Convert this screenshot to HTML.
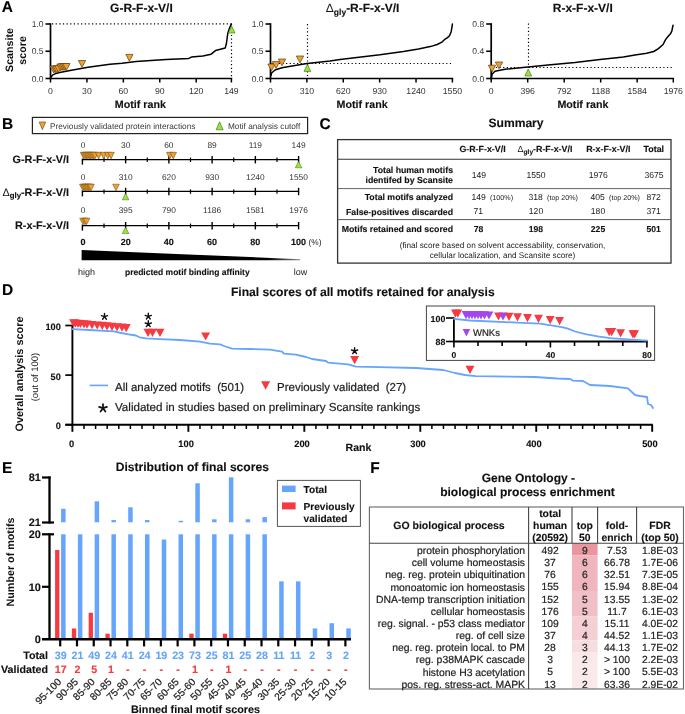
<!DOCTYPE html>
<html><head><meta charset="utf-8"><title>Figure</title>
<style>
html,body{margin:0;padding:0;background:#fff;}
body{width:685px;height:714px;overflow:hidden;}
svg{display:block;font-family:"Liberation Sans", sans-serif;will-change:transform;text-rendering:geometricPrecision;}
</style></head><body>
<svg width="685" height="714" viewBox="0 0 685 714">
<rect x="0" y="0" width="685" height="714" fill="#fff"/>
<text x="1.80" y="12.30" font-size="15.5" font-weight="bold" text-anchor="start" fill="#000" stroke="#000" stroke-width="0.12" >A</text>
<text x="1.90" y="128.50" font-size="15.5" font-weight="bold" text-anchor="start" fill="#000" stroke="#000" stroke-width="0.12" >B</text>
<text x="319.40" y="128.80" font-size="15.5" font-weight="bold" text-anchor="start" fill="#000" stroke="#000" stroke-width="0.12" >C</text>
<text x="1.90" y="295.00" font-size="15.5" font-weight="bold" text-anchor="start" fill="#000" stroke="#000" stroke-width="0.12" >D</text>
<text x="2.00" y="473.40" font-size="15.5" font-weight="bold" text-anchor="start" fill="#000" stroke="#000" stroke-width="0.12" >E</text>
<text x="370.20" y="472.80" font-size="15.5" font-weight="bold" text-anchor="start" fill="#000" stroke="#000" stroke-width="0.12" >F</text>
<line x1="50.50" y1="23.20" x2="50.50" y2="79.30" stroke="#000" stroke-width="1.7" />
<line x1="49.70" y1="78.50" x2="232.20" y2="78.50" stroke="#000" stroke-width="1.7" />
<line x1="45.50" y1="78.50" x2="50.50" y2="78.50" stroke="#000" stroke-width="1.6" />
<text x="43.50" y="81.54" font-size="8.5" text-anchor="end" fill="#333" stroke="#333" stroke-width="0" >0.0</text>
<line x1="45.50" y1="51.25" x2="50.50" y2="51.25" stroke="#000" stroke-width="1.6" />
<text x="43.50" y="54.29" font-size="8.5" text-anchor="end" fill="#333" stroke="#333" stroke-width="0" >0.5</text>
<line x1="45.50" y1="24.00" x2="50.50" y2="24.00" stroke="#000" stroke-width="1.6" />
<text x="43.50" y="27.04" font-size="8.5" text-anchor="end" fill="#333" stroke="#333" stroke-width="0" >1.0</text>
<line x1="50.50" y1="78.50" x2="50.50" y2="82.50" stroke="#000" stroke-width="1.5" />
<text x="50.50" y="93.81" font-size="8.7" text-anchor="middle" fill="#333" stroke="#333" stroke-width="0" >0</text>
<line x1="86.92" y1="78.50" x2="86.92" y2="82.50" stroke="#000" stroke-width="1.5" />
<text x="86.92" y="93.81" font-size="8.7" text-anchor="middle" fill="#333" stroke="#333" stroke-width="0" >30</text>
<line x1="123.35" y1="78.50" x2="123.35" y2="82.50" stroke="#000" stroke-width="1.5" />
<text x="123.35" y="93.81" font-size="8.7" text-anchor="middle" fill="#333" stroke="#333" stroke-width="0" >60</text>
<line x1="159.77" y1="78.50" x2="159.77" y2="82.50" stroke="#000" stroke-width="1.5" />
<text x="159.77" y="93.81" font-size="8.7" text-anchor="middle" fill="#333" stroke="#333" stroke-width="0" >90</text>
<line x1="196.19" y1="78.50" x2="196.19" y2="82.50" stroke="#000" stroke-width="1.5" />
<text x="196.19" y="93.81" font-size="8.7" text-anchor="middle" fill="#333" stroke="#333" stroke-width="0" >120</text>
<line x1="231.40" y1="78.50" x2="231.40" y2="82.50" stroke="#000" stroke-width="1.5" />
<text x="231.40" y="93.81" font-size="8.7" text-anchor="middle" fill="#333" stroke="#333" stroke-width="0" >149</text>
<text x="140.35" y="108.03" font-size="10.7" font-weight="bold" text-anchor="middle" fill="#111" stroke="#111" stroke-width="0.12" >Motif rank</text>
<text x="141.45" y="12.40" font-size="12" font-weight="bold" text-anchor="middle" fill="#111" stroke="#111" stroke-width="0.12" >G-R-F-x-V/I</text>
<line x1="270.50" y1="23.20" x2="270.50" y2="79.30" stroke="#000" stroke-width="1.7" />
<line x1="269.70" y1="78.50" x2="453.20" y2="78.50" stroke="#000" stroke-width="1.7" />
<line x1="265.50" y1="78.50" x2="270.50" y2="78.50" stroke="#000" stroke-width="1.6" />
<text x="263.50" y="81.54" font-size="8.5" text-anchor="end" fill="#333" stroke="#333" stroke-width="0" >0.0</text>
<line x1="265.50" y1="51.25" x2="270.50" y2="51.25" stroke="#000" stroke-width="1.6" />
<text x="263.50" y="54.29" font-size="8.5" text-anchor="end" fill="#333" stroke="#333" stroke-width="0" >0.5</text>
<line x1="265.50" y1="24.00" x2="270.50" y2="24.00" stroke="#000" stroke-width="1.6" />
<text x="263.50" y="27.04" font-size="8.5" text-anchor="end" fill="#333" stroke="#333" stroke-width="0" >1.0</text>
<line x1="270.50" y1="78.50" x2="270.50" y2="82.50" stroke="#000" stroke-width="1.5" />
<text x="270.50" y="93.81" font-size="8.7" text-anchor="middle" fill="#333" stroke="#333" stroke-width="0" >0</text>
<line x1="306.88" y1="78.50" x2="306.88" y2="82.50" stroke="#000" stroke-width="1.5" />
<text x="306.88" y="93.81" font-size="8.7" text-anchor="middle" fill="#333" stroke="#333" stroke-width="0" >310</text>
<line x1="343.26" y1="78.50" x2="343.26" y2="82.50" stroke="#000" stroke-width="1.5" />
<text x="343.26" y="93.81" font-size="8.7" text-anchor="middle" fill="#333" stroke="#333" stroke-width="0" >620</text>
<line x1="379.64" y1="78.50" x2="379.64" y2="82.50" stroke="#000" stroke-width="1.5" />
<text x="379.64" y="93.81" font-size="8.7" text-anchor="middle" fill="#333" stroke="#333" stroke-width="0" >930</text>
<line x1="416.02" y1="78.50" x2="416.02" y2="82.50" stroke="#000" stroke-width="1.5" />
<text x="416.02" y="93.81" font-size="8.7" text-anchor="middle" fill="#333" stroke="#333" stroke-width="0" >1240</text>
<line x1="452.40" y1="78.50" x2="452.40" y2="82.50" stroke="#000" stroke-width="1.5" />
<text x="452.40" y="93.81" font-size="8.7" text-anchor="middle" fill="#333" stroke="#333" stroke-width="0" >1550</text>
<text x="362.15" y="108.03" font-size="10.7" font-weight="bold" text-anchor="middle" fill="#111" stroke="#111" stroke-width="0.12" >Motif rank</text>
<text x="362.65" y="12.4" font-size="12" font-weight="bold" text-anchor="middle" fill="#111" stroke="#111" stroke-width="0.12"><tspan font-weight="normal" stroke-width="0">&#916;</tspan><tspan font-size="8.5" dy="2.5">gly</tspan><tspan dy="-2.5">-R-F-x-V/I</tspan></text>
<line x1="491.20" y1="23.20" x2="491.20" y2="79.30" stroke="#000" stroke-width="1.7" />
<line x1="490.40" y1="78.50" x2="674.10" y2="78.50" stroke="#000" stroke-width="1.7" />
<line x1="486.20" y1="78.50" x2="491.20" y2="78.50" stroke="#000" stroke-width="1.6" />
<text x="484.20" y="81.54" font-size="8.5" text-anchor="end" fill="#333" stroke="#333" stroke-width="0" >0.0</text>
<line x1="486.20" y1="51.25" x2="491.20" y2="51.25" stroke="#000" stroke-width="1.6" />
<text x="484.20" y="54.29" font-size="8.5" text-anchor="end" fill="#333" stroke="#333" stroke-width="0" >0.4</text>
<line x1="486.20" y1="24.00" x2="491.20" y2="24.00" stroke="#000" stroke-width="1.6" />
<text x="484.20" y="27.04" font-size="8.5" text-anchor="end" fill="#333" stroke="#333" stroke-width="0" >0.8</text>
<line x1="491.20" y1="78.50" x2="491.20" y2="82.50" stroke="#000" stroke-width="1.5" />
<text x="491.20" y="93.81" font-size="8.7" text-anchor="middle" fill="#333" stroke="#333" stroke-width="0" >0</text>
<line x1="527.69" y1="78.50" x2="527.69" y2="82.50" stroke="#000" stroke-width="1.5" />
<text x="527.69" y="93.81" font-size="8.7" text-anchor="middle" fill="#333" stroke="#333" stroke-width="0" >396</text>
<line x1="564.19" y1="78.50" x2="564.19" y2="82.50" stroke="#000" stroke-width="1.5" />
<text x="564.19" y="93.81" font-size="8.7" text-anchor="middle" fill="#333" stroke="#333" stroke-width="0" >792</text>
<line x1="600.68" y1="78.50" x2="600.68" y2="82.50" stroke="#000" stroke-width="1.5" />
<text x="600.68" y="93.81" font-size="8.7" text-anchor="middle" fill="#333" stroke="#333" stroke-width="0" >1188</text>
<line x1="637.17" y1="78.50" x2="637.17" y2="82.50" stroke="#000" stroke-width="1.5" />
<text x="637.17" y="93.81" font-size="8.7" text-anchor="middle" fill="#333" stroke="#333" stroke-width="0" >1584</text>
<line x1="673.30" y1="78.50" x2="673.30" y2="82.50" stroke="#000" stroke-width="1.5" />
<text x="673.30" y="93.81" font-size="8.7" text-anchor="middle" fill="#333" stroke="#333" stroke-width="0" >1976</text>
<text x="582.95" y="108.03" font-size="10.7" font-weight="bold" text-anchor="middle" fill="#111" stroke="#111" stroke-width="0.12" >Motif rank</text>
<text x="582.75" y="12.40" font-size="12" font-weight="bold" text-anchor="middle" fill="#111" stroke="#111" stroke-width="0.12" >R-x-F-x-V/I</text>
<text transform="translate(12.9,50) rotate(-90)" font-size="10.7" font-weight="bold" text-anchor="middle" fill="#111">Scansite</text>
<text transform="translate(25.6,50.4) rotate(-90)" font-size="10.7" font-weight="bold" text-anchor="middle" fill="#111">score</text>
<line x1="52.00" y1="23.90" x2="231.40" y2="23.90" stroke="#000" stroke-width="1.2" stroke-dasharray="1.2 2.44"/>
<line x1="231.50" y1="24.00" x2="231.50" y2="78.00" stroke="#000" stroke-width="1.2" stroke-dasharray="1.2 2.44"/>
<line x1="307.50" y1="24.00" x2="307.50" y2="76.00" stroke="#000" stroke-width="1.2" stroke-dasharray="1.2 2.44"/>
<line x1="271.50" y1="63.50" x2="452.40" y2="63.50" stroke="#000" stroke-width="1.2" stroke-dasharray="1.2 2.44"/>
<line x1="528.50" y1="23.50" x2="528.50" y2="68.00" stroke="#000" stroke-width="1.2" stroke-dasharray="1.2 2.44"/>
<line x1="492.20" y1="67.50" x2="673.30" y2="67.50" stroke="#000" stroke-width="1.2" stroke-dasharray="1.2 2.44"/>
<path d="M51.20,77.00 L52.40,75.10 L55.00,73.80 L59.70,72.50 L71.40,70.20 L88.00,67.30 L110.00,64.20 L122.00,63.30 L136.00,61.40 L166.00,59.40 L188.80,58.40 L191.40,57.10 L202.80,56.10 L211.10,54.20 L215.50,50.60 L225.20,48.10 L226.50,43.00 L227.80,33.20 L229.50,28.00 L231.30,24.00" stroke="#000" stroke-width="1.5" fill="none" stroke-linejoin="round" stroke-linecap="round" />
<path d="M271.00,75.50 L271.60,73.00 L275.00,70.00 L282.00,67.80 L292.00,66.00 L307.00,63.60 L330.00,61.00 L340.00,59.40 L380.00,54.80 L403.40,51.50 L418.50,49.00 L430.20,46.60 L437.20,44.50 L441.90,42.20 L444.80,39.30 L447.50,37.60 L449.50,35.80 L451.20,31.70 L452.40,24.10" stroke="#000" stroke-width="1.5" fill="none" stroke-linejoin="round" stroke-linecap="round" />
<path d="M491.40,78.00 L492.20,74.00 L495.00,71.20 L505.00,69.20 L528.00,67.10 L548.00,65.00 L575.00,62.50 L600.00,59.50 L623.40,57.10 L635.00,55.00 L646.70,53.30 L653.70,51.50 L658.40,48.60 L663.10,44.50 L665.40,39.90 L668.00,36.50 L670.70,33.40 L671.80,31.10 L673.00,25.30" stroke="#000" stroke-width="1.5" fill="none" stroke-linejoin="round" stroke-linecap="round" />
<path d="M49.95,66.00 L57.25,66.00 L53.60,72.80 Z" fill="#f2a030" stroke="#5a3c08" stroke-width="0.7" stroke-linejoin="round"/>
<path d="M51.55,66.00 L58.85,66.00 L55.20,72.80 Z" fill="#f2a030" stroke="#5a3c08" stroke-width="0.7" stroke-linejoin="round"/>
<path d="M53.15,66.00 L60.45,66.00 L56.80,72.80 Z" fill="#f2a030" stroke="#5a3c08" stroke-width="0.7" stroke-linejoin="round"/>
<path d="M54.75,65.60 L62.05,65.60 L58.40,72.40 Z" fill="#f2a030" stroke="#5a3c08" stroke-width="0.7" stroke-linejoin="round"/>
<path d="M56.85,64.00 L64.15,64.00 L60.50,70.80 Z" fill="#f2a030" stroke="#5a3c08" stroke-width="0.7" stroke-linejoin="round"/>
<path d="M58.35,63.70 L65.65,63.70 L62.00,70.50 Z" fill="#f2a030" stroke="#5a3c08" stroke-width="0.7" stroke-linejoin="round"/>
<path d="M59.85,63.50 L67.15,63.50 L63.50,70.30 Z" fill="#f2a030" stroke="#5a3c08" stroke-width="0.7" stroke-linejoin="round"/>
<path d="M61.35,63.50 L68.65,63.50 L65.00,70.30 Z" fill="#f2a030" stroke="#5a3c08" stroke-width="0.7" stroke-linejoin="round"/>
<path d="M62.75,63.50 L70.05,63.50 L66.40,70.30 Z" fill="#f2a030" stroke="#5a3c08" stroke-width="0.7" stroke-linejoin="round"/>
<path d="M78.35,60.50 L85.65,60.50 L82.00,67.30 Z" fill="#f2a030" stroke="#5a3c08" stroke-width="0.7" stroke-linejoin="round"/>
<path d="M125.75,54.40 L133.05,54.40 L129.40,61.20 Z" fill="#f2a030" stroke="#5a3c08" stroke-width="0.7" stroke-linejoin="round"/>
<path d="M267.85,64.00 L275.15,64.00 L271.50,70.80 Z" fill="#f2a030" stroke="#5a3c08" stroke-width="0.7" stroke-linejoin="round"/>
<path d="M272.35,61.60 L279.65,61.60 L276.00,68.40 Z" fill="#f2a030" stroke="#5a3c08" stroke-width="0.7" stroke-linejoin="round"/>
<path d="M278.35,59.00 L285.65,59.00 L282.00,65.80 Z" fill="#f2a030" stroke="#5a3c08" stroke-width="0.7" stroke-linejoin="round"/>
<path d="M296.35,56.00 L303.65,56.00 L300.00,62.80 Z" fill="#f2a030" stroke="#5a3c08" stroke-width="0.7" stroke-linejoin="round"/>
<path d="M488.35,65.20 L495.65,65.20 L492.00,72.00 Z" fill="#f2a030" stroke="#5a3c08" stroke-width="0.7" stroke-linejoin="round"/>
<path d="M495.35,62.00 L502.65,62.00 L499.00,68.80 Z" fill="#f2a030" stroke="#5a3c08" stroke-width="0.7" stroke-linejoin="round"/>
<path d="M231.60,26.00 L235.00,33.00 L228.20,33.00 Z" fill="#9be53a" stroke="#2f6a0a" stroke-width="0.6" stroke-linejoin="round"/>
<path d="M307.40,64.40 L310.80,71.40 L304.00,71.40 Z" fill="#9be53a" stroke="#2f6a0a" stroke-width="0.6" stroke-linejoin="round"/>
<path d="M528.20,69.00 L531.60,76.00 L524.80,76.00 Z" fill="#9be53a" stroke="#2f6a0a" stroke-width="0.6" stroke-linejoin="round"/>
<rect x="32.4" y="117.4" width="275.2" height="16.2" fill="none" stroke="#222" stroke-width="1.2"/>
<path d="M39.15,122.00 L45.65,122.00 L42.40,129.60 Z" fill="#f2a030" stroke="#5a3c08" stroke-width="0.6" stroke-linejoin="round"/>
<text x="50.00" y="128.55" font-size="8.25" text-anchor="start" fill="#3a3a3a" stroke="#3a3a3a" stroke-width="0" >Previously validated protein interactions</text>
<path d="M219.60,121.80 L223.10,129.80 L216.10,129.80 Z" fill="#9be53a" stroke="#2f6a0a" stroke-width="0.6" stroke-linejoin="round"/>
<text x="228.00" y="128.55" font-size="8.25" text-anchor="start" fill="#3a3a3a" stroke="#3a3a3a" stroke-width="0" >Motif analysis cutoff</text>
<line x1="82.40" y1="159.60" x2="298.60" y2="159.60" stroke="#000" stroke-width="1.3" />
<line x1="82.40" y1="158.60" x2="82.40" y2="164.60" stroke="#000" stroke-width="1.4" />
<line x1="104.02" y1="157.60" x2="104.02" y2="162.00" stroke="#000" stroke-width="1.2" />
<line x1="125.64" y1="156.00" x2="125.64" y2="163.40" stroke="#000" stroke-width="1.4" />
<line x1="147.26" y1="157.60" x2="147.26" y2="162.00" stroke="#000" stroke-width="1.2" />
<line x1="168.88" y1="156.00" x2="168.88" y2="163.40" stroke="#000" stroke-width="1.4" />
<line x1="190.50" y1="157.60" x2="190.50" y2="162.00" stroke="#000" stroke-width="1.2" />
<line x1="212.12" y1="156.00" x2="212.12" y2="163.40" stroke="#000" stroke-width="1.4" />
<line x1="233.74" y1="157.60" x2="233.74" y2="162.00" stroke="#000" stroke-width="1.2" />
<line x1="255.36" y1="156.00" x2="255.36" y2="163.40" stroke="#000" stroke-width="1.4" />
<line x1="276.98" y1="157.60" x2="276.98" y2="162.00" stroke="#000" stroke-width="1.2" />
<line x1="298.60" y1="156.00" x2="298.60" y2="163.40" stroke="#000" stroke-width="1.4" />
<text x="83.10" y="147.81" font-size="8.4" text-anchor="middle" fill="#333" stroke="#333" stroke-width="0" >0</text>
<text x="125.64" y="147.81" font-size="8.4" text-anchor="middle" fill="#333" stroke="#333" stroke-width="0" >30</text>
<text x="168.88" y="147.81" font-size="8.4" text-anchor="middle" fill="#333" stroke="#333" stroke-width="0" >60</text>
<text x="212.12" y="147.81" font-size="8.4" text-anchor="middle" fill="#333" stroke="#333" stroke-width="0" >89</text>
<text x="255.36" y="147.81" font-size="8.4" text-anchor="middle" fill="#333" stroke="#333" stroke-width="0" >119</text>
<text x="298.60" y="147.81" font-size="8.4" text-anchor="middle" fill="#333" stroke="#333" stroke-width="0" >149</text>
<text x="69.00" y="163.47" font-size="10.8" font-weight="bold" text-anchor="end" fill="#111" stroke="#111" stroke-width="0.12" >G-R-F-x-V/I</text>
<line x1="82.40" y1="191.40" x2="298.60" y2="191.40" stroke="#000" stroke-width="1.3" />
<line x1="82.40" y1="190.40" x2="82.40" y2="196.40" stroke="#000" stroke-width="1.4" />
<line x1="104.02" y1="189.40" x2="104.02" y2="193.80" stroke="#000" stroke-width="1.2" />
<line x1="125.64" y1="187.80" x2="125.64" y2="195.20" stroke="#000" stroke-width="1.4" />
<line x1="147.26" y1="189.40" x2="147.26" y2="193.80" stroke="#000" stroke-width="1.2" />
<line x1="168.88" y1="187.80" x2="168.88" y2="195.20" stroke="#000" stroke-width="1.4" />
<line x1="190.50" y1="189.40" x2="190.50" y2="193.80" stroke="#000" stroke-width="1.2" />
<line x1="212.12" y1="187.80" x2="212.12" y2="195.20" stroke="#000" stroke-width="1.4" />
<line x1="233.74" y1="189.40" x2="233.74" y2="193.80" stroke="#000" stroke-width="1.2" />
<line x1="255.36" y1="187.80" x2="255.36" y2="195.20" stroke="#000" stroke-width="1.4" />
<line x1="276.98" y1="189.40" x2="276.98" y2="193.80" stroke="#000" stroke-width="1.2" />
<line x1="298.60" y1="187.80" x2="298.60" y2="195.20" stroke="#000" stroke-width="1.4" />
<text x="83.10" y="179.61" font-size="8.4" text-anchor="middle" fill="#333" stroke="#333" stroke-width="0" >0</text>
<text x="125.64" y="179.61" font-size="8.4" text-anchor="middle" fill="#333" stroke="#333" stroke-width="0" >310</text>
<text x="168.88" y="179.61" font-size="8.4" text-anchor="middle" fill="#333" stroke="#333" stroke-width="0" >620</text>
<text x="212.12" y="179.61" font-size="8.4" text-anchor="middle" fill="#333" stroke="#333" stroke-width="0" >930</text>
<text x="255.36" y="179.61" font-size="8.4" text-anchor="middle" fill="#333" stroke="#333" stroke-width="0" >1240</text>
<text x="298.60" y="179.61" font-size="8.4" text-anchor="middle" fill="#333" stroke="#333" stroke-width="0" >1550</text>
<text x="69" y="195.80" font-size="10.8" font-weight="bold" text-anchor="end" fill="#111" stroke="#111" stroke-width="0.12"><tspan font-weight="normal" stroke-width="0">&#916;</tspan><tspan font-size="7.8" dy="2.5">gly</tspan><tspan dy="-2.5">-R-F-x-V/I</tspan></text>
<line x1="82.40" y1="225.60" x2="298.60" y2="225.60" stroke="#000" stroke-width="1.3" />
<line x1="82.40" y1="224.60" x2="82.40" y2="230.60" stroke="#000" stroke-width="1.4" />
<line x1="104.02" y1="223.60" x2="104.02" y2="228.00" stroke="#000" stroke-width="1.2" />
<line x1="125.64" y1="222.00" x2="125.64" y2="229.40" stroke="#000" stroke-width="1.4" />
<line x1="147.26" y1="223.60" x2="147.26" y2="228.00" stroke="#000" stroke-width="1.2" />
<line x1="168.88" y1="222.00" x2="168.88" y2="229.40" stroke="#000" stroke-width="1.4" />
<line x1="190.50" y1="223.60" x2="190.50" y2="228.00" stroke="#000" stroke-width="1.2" />
<line x1="212.12" y1="222.00" x2="212.12" y2="229.40" stroke="#000" stroke-width="1.4" />
<line x1="233.74" y1="223.60" x2="233.74" y2="228.00" stroke="#000" stroke-width="1.2" />
<line x1="255.36" y1="222.00" x2="255.36" y2="229.40" stroke="#000" stroke-width="1.4" />
<line x1="276.98" y1="223.60" x2="276.98" y2="228.00" stroke="#000" stroke-width="1.2" />
<line x1="298.60" y1="222.00" x2="298.60" y2="229.40" stroke="#000" stroke-width="1.4" />
<text x="83.10" y="213.21" font-size="8.4" text-anchor="middle" fill="#333" stroke="#333" stroke-width="0" >0</text>
<text x="125.64" y="213.21" font-size="8.4" text-anchor="middle" fill="#333" stroke="#333" stroke-width="0" >395</text>
<text x="168.88" y="213.21" font-size="8.4" text-anchor="middle" fill="#333" stroke="#333" stroke-width="0" >790</text>
<text x="212.12" y="213.21" font-size="8.4" text-anchor="middle" fill="#333" stroke="#333" stroke-width="0" >1186</text>
<text x="255.36" y="213.21" font-size="8.4" text-anchor="middle" fill="#333" stroke="#333" stroke-width="0" >1581</text>
<text x="298.60" y="213.21" font-size="8.4" text-anchor="middle" fill="#333" stroke="#333" stroke-width="0" >1976</text>
<text x="69.00" y="229.47" font-size="10.8" font-weight="bold" text-anchor="end" fill="#111" stroke="#111" stroke-width="0.12" >R-x-F-x-V/I</text>
<path d="M80.30,152.30 L86.90,152.30 L83.60,158.90 Z" fill="#f2a030" stroke="#5a3c08" stroke-width="0.5" stroke-linejoin="round"/>
<path d="M81.70,152.30 L88.30,152.30 L85.00,158.90 Z" fill="#f2a030" stroke="#5a3c08" stroke-width="0.5" stroke-linejoin="round"/>
<path d="M83.10,152.30 L89.70,152.30 L86.40,158.90 Z" fill="#f2a030" stroke="#5a3c08" stroke-width="0.5" stroke-linejoin="round"/>
<path d="M84.50,152.30 L91.10,152.30 L87.80,158.90 Z" fill="#f2a030" stroke="#5a3c08" stroke-width="0.5" stroke-linejoin="round"/>
<path d="M85.90,152.30 L92.50,152.30 L89.20,158.90 Z" fill="#f2a030" stroke="#5a3c08" stroke-width="0.5" stroke-linejoin="round"/>
<path d="M87.30,152.30 L93.90,152.30 L90.60,158.90 Z" fill="#f2a030" stroke="#5a3c08" stroke-width="0.5" stroke-linejoin="round"/>
<path d="M88.70,152.30 L95.30,152.30 L92.00,158.90 Z" fill="#f2a030" stroke="#5a3c08" stroke-width="0.5" stroke-linejoin="round"/>
<path d="M90.10,152.30 L96.70,152.30 L93.40,158.90 Z" fill="#f2a030" stroke="#5a3c08" stroke-width="0.5" stroke-linejoin="round"/>
<path d="M91.70,152.30 L98.30,152.30 L95.00,158.90 Z" fill="#f2a030" stroke="#5a3c08" stroke-width="0.5" stroke-linejoin="round"/>
<path d="M95.30,152.30 L101.90,152.30 L98.60,158.90 Z" fill="#f2a030" stroke="#5a3c08" stroke-width="0.5" stroke-linejoin="round"/>
<path d="M100.30,152.30 L106.90,152.30 L103.60,158.90 Z" fill="#f2a030" stroke="#5a3c08" stroke-width="0.5" stroke-linejoin="round"/>
<path d="M104.50,152.30 L111.10,152.30 L107.80,158.90 Z" fill="#f2a030" stroke="#5a3c08" stroke-width="0.5" stroke-linejoin="round"/>
<path d="M107.70,152.30 L114.30,152.30 L111.00,158.90 Z" fill="#f2a030" stroke="#5a3c08" stroke-width="0.5" stroke-linejoin="round"/>
<path d="M166.50,152.30 L173.10,152.30 L169.80,158.90 Z" fill="#f2a030" stroke="#5a3c08" stroke-width="0.5" stroke-linejoin="round"/>
<path d="M169.90,152.30 L176.50,152.30 L173.20,158.90 Z" fill="#f2a030" stroke="#5a3c08" stroke-width="0.5" stroke-linejoin="round"/>
<path d="M298.60,161.40 L301.90,167.80 L295.30,167.80 Z" fill="#9be53a" stroke="#2f6a0a" stroke-width="0.5" stroke-linejoin="round"/>
<path d="M79.50,184.20 L86.10,184.20 L82.80,190.80 Z" fill="#f2a030" stroke="#5a3c08" stroke-width="0.5" stroke-linejoin="round"/>
<path d="M80.90,184.20 L87.50,184.20 L84.20,190.80 Z" fill="#f2a030" stroke="#5a3c08" stroke-width="0.5" stroke-linejoin="round"/>
<path d="M82.30,184.20 L88.90,184.20 L85.60,190.80 Z" fill="#f2a030" stroke="#5a3c08" stroke-width="0.5" stroke-linejoin="round"/>
<path d="M83.70,184.20 L90.30,184.20 L87.00,190.80 Z" fill="#f2a030" stroke="#5a3c08" stroke-width="0.5" stroke-linejoin="round"/>
<path d="M85.10,184.20 L91.70,184.20 L88.40,190.80 Z" fill="#f2a030" stroke="#5a3c08" stroke-width="0.5" stroke-linejoin="round"/>
<path d="M86.50,184.20 L93.10,184.20 L89.80,190.80 Z" fill="#f2a030" stroke="#5a3c08" stroke-width="0.5" stroke-linejoin="round"/>
<path d="M87.70,184.20 L94.30,184.20 L91.00,190.80 Z" fill="#f2a030" stroke="#5a3c08" stroke-width="0.5" stroke-linejoin="round"/>
<path d="M112.70,184.20 L119.30,184.20 L116.00,190.80 Z" fill="#f2a030" stroke="#5a3c08" stroke-width="0.5" stroke-linejoin="round"/>
<path d="M125.60,193.40 L128.90,199.80 L122.30,199.80 Z" fill="#9be53a" stroke="#2f6a0a" stroke-width="0.5" stroke-linejoin="round"/>
<path d="M79.70,218.20 L86.30,218.20 L83.00,224.80 Z" fill="#f2a030" stroke="#5a3c08" stroke-width="0.5" stroke-linejoin="round"/>
<path d="M81.70,218.20 L88.30,218.20 L85.00,224.80 Z" fill="#f2a030" stroke="#5a3c08" stroke-width="0.5" stroke-linejoin="round"/>
<path d="M83.20,218.20 L89.80,218.20 L86.50,224.80 Z" fill="#f2a030" stroke="#5a3c08" stroke-width="0.5" stroke-linejoin="round"/>
<path d="M125.60,227.20 L128.90,233.60 L122.30,233.60 Z" fill="#9be53a" stroke="#2f6a0a" stroke-width="0.5" stroke-linejoin="round"/>
<text x="83.00" y="245.22" font-size="9" font-weight="bold" text-anchor="middle" fill="#111" stroke="#111" stroke-width="0.12" >0</text>
<text x="125.64" y="245.22" font-size="9" font-weight="bold" text-anchor="middle" fill="#111" stroke="#111" stroke-width="0.12" >20</text>
<text x="168.88" y="245.22" font-size="9" font-weight="bold" text-anchor="middle" fill="#111" stroke="#111" stroke-width="0.12" >40</text>
<text x="212.12" y="245.22" font-size="9" font-weight="bold" text-anchor="middle" fill="#111" stroke="#111" stroke-width="0.12" >60</text>
<text x="255.36" y="245.22" font-size="9" font-weight="bold" text-anchor="middle" fill="#111" stroke="#111" stroke-width="0.12" >80</text>
<text x="298.60" y="245.22" font-size="9" font-weight="bold" text-anchor="middle" fill="#111" stroke="#111" stroke-width="0.12" >100</text>
<text x="308.60" y="244.97" font-size="8.3" text-anchor="start" fill="#222" stroke="#222" stroke-width="0" >(%)</text>
<defs><linearGradient id="wg" x1="0" x2="1" y1="0" y2="0"><stop offset="0" stop-color="#000"/><stop offset="0.85" stop-color="#000"/><stop offset="1" stop-color="#888"/></linearGradient></defs>
<path d="M81.6,250 L300,259.2 L300,260.2 L81.6,260.2 Z" fill="url(#wg)"/>
<text x="86.50" y="275.22" font-size="9" text-anchor="middle" fill="#222" stroke="#222" stroke-width="0" >high</text>
<text x="187.30" y="275.04" font-size="8.5" font-weight="bold" text-anchor="middle" fill="#111" stroke="#111" stroke-width="0.12" >predicted motif binding affinity</text>
<text x="300.50" y="275.22" font-size="9" text-anchor="middle" fill="#222" stroke="#222" stroke-width="0" >low</text>
<text x="516.00" y="126.73" font-size="12.1" font-weight="bold" text-anchor="middle" fill="#111" stroke="#111" stroke-width="0.12" >Summary</text>
<rect x="337.6" y="139.6" width="333.4" height="123.5" fill="none" stroke="#333" stroke-width="1.3"/>
<line x1="337.60" y1="159.30" x2="671.00" y2="159.30" stroke="#333" stroke-width="1.1" />
<line x1="337.60" y1="188.60" x2="671.00" y2="188.60" stroke="#555" stroke-width="0.9" />
<line x1="337.60" y1="219.60" x2="671.00" y2="219.60" stroke="#555" stroke-width="1.0" />
<text x="482.50" y="151.77" font-size="8.85" font-weight="bold" text-anchor="middle" fill="#111" stroke="#111" stroke-width="0.12" >G-R-F-x-V/I</text>
<text x="545" y="151.8" font-size="8.85" font-weight="bold" text-anchor="middle" fill="#111" stroke="#111" stroke-width="0.12"><tspan font-weight="normal" stroke-width="0">&#916;</tspan><tspan font-size="6.6" dy="2.2">gly</tspan><tspan dy="-2.2">-R-F-x-V/I</tspan></text>
<text x="608.30" y="151.77" font-size="8.85" font-weight="bold" text-anchor="middle" fill="#111" stroke="#111" stroke-width="0.12" >R-x-F-x-V/I</text>
<text x="653.80" y="151.77" font-size="8.85" font-weight="bold" text-anchor="middle" fill="#111" stroke="#111" stroke-width="0.12" >Total</text>
<text x="453.00" y="172.53" font-size="8.75" font-weight="bold" text-anchor="end" fill="#111" stroke="#111" stroke-width="0.12" >Total human motifs</text>
<text x="453.00" y="183.13" font-size="8.75" font-weight="bold" text-anchor="end" fill="#111" stroke="#111" stroke-width="0.12" >identifed by Scansite</text>
<text x="478.80" y="178.08" font-size="8.6" text-anchor="middle" fill="#1a1a1a" stroke="#1a1a1a" stroke-width="0" >149</text>
<text x="536.00" y="178.08" font-size="8.6" text-anchor="middle" fill="#1a1a1a" stroke="#1a1a1a" stroke-width="0" >1550</text>
<text x="598.20" y="178.08" font-size="8.6" text-anchor="middle" fill="#1a1a1a" stroke="#1a1a1a" stroke-width="0" >1976</text>
<text x="654.00" y="178.08" font-size="8.6" text-anchor="middle" fill="#1a1a1a" stroke="#1a1a1a" stroke-width="0" >3675</text>
<text x="453.00" y="200.13" font-size="8.75" font-weight="bold" text-anchor="end" fill="#111" stroke="#111" stroke-width="0.12" >Total motifs analyzed</text>
<text x="453.00" y="214.53" font-size="8.75" font-weight="bold" text-anchor="end" fill="#111" stroke="#111" stroke-width="0.12" >False-positives discarded</text>
<text x="453.00" y="231.73" font-size="8.75" font-weight="bold" text-anchor="end" fill="#111" stroke="#111" stroke-width="0.12" >Motifs retained and scored</text>
<text x="478.60" y="200.08" font-size="8.6" text-anchor="middle" fill="#1a1a1a" stroke="#1a1a1a" stroke-width="0" >149</text>
<text x="535.60" y="200.08" font-size="8.6" text-anchor="middle" fill="#1a1a1a" stroke="#1a1a1a" stroke-width="0" >318</text>
<text x="597.70" y="200.08" font-size="8.6" text-anchor="middle" fill="#1a1a1a" stroke="#1a1a1a" stroke-width="0" >405</text>
<text x="653.70" y="200.08" font-size="8.6" text-anchor="middle" fill="#1a1a1a" stroke="#1a1a1a" stroke-width="0" >872</text>
<text x="501.50" y="199.86" font-size="7.15" text-anchor="middle" fill="#222" stroke="#222" stroke-width="0" >(100%)</text>
<text x="562.50" y="199.86" font-size="7.15" text-anchor="middle" fill="#222" stroke="#222" stroke-width="0" >(top 20%)</text>
<text x="624.50" y="199.86" font-size="7.15" text-anchor="middle" fill="#222" stroke="#222" stroke-width="0" >(top 20%)</text>
<text x="478.20" y="214.48" font-size="8.6" text-anchor="middle" fill="#1a1a1a" stroke="#1a1a1a" stroke-width="0" >71</text>
<text x="536.00" y="214.48" font-size="8.6" text-anchor="middle" fill="#1a1a1a" stroke="#1a1a1a" stroke-width="0" >120</text>
<text x="598.00" y="214.48" font-size="8.6" text-anchor="middle" fill="#1a1a1a" stroke="#1a1a1a" stroke-width="0" >180</text>
<text x="653.60" y="214.48" font-size="8.6" text-anchor="middle" fill="#1a1a1a" stroke="#1a1a1a" stroke-width="0" >371</text>
<text x="478.50" y="231.68" font-size="8.6" font-weight="bold" text-anchor="middle" fill="#111" stroke="#111" stroke-width="0.12" >78</text>
<text x="535.80" y="231.68" font-size="8.6" font-weight="bold" text-anchor="middle" fill="#111" stroke="#111" stroke-width="0.12" >198</text>
<text x="598.00" y="231.68" font-size="8.6" font-weight="bold" text-anchor="middle" fill="#111" stroke="#111" stroke-width="0.12" >225</text>
<text x="653.60" y="231.68" font-size="8.6" font-weight="bold" text-anchor="middle" fill="#111" stroke="#111" stroke-width="0.12" >501</text>
<text x="502.50" y="247.94" font-size="8.2" text-anchor="middle" fill="#222" stroke="#222" stroke-width="0" >(final score based on solvent accessability, conservation,</text>
<text x="502.50" y="257.94" font-size="8.2" text-anchor="middle" fill="#222" stroke="#222" stroke-width="0" >cellular localization, and Scansite score)</text>
<text x="362.80" y="296.35" font-size="12.15" font-weight="bold" text-anchor="middle" fill="#111" stroke="#111" stroke-width="0.12" >Final scores of all motifs retained for analysis</text>
<line x1="72.40" y1="325.00" x2="72.40" y2="425.70" stroke="#000" stroke-width="1.9" />
<line x1="65.30" y1="424.70" x2="652.80" y2="424.70" stroke="#000" stroke-width="2.0" />
<line x1="65.30" y1="424.70" x2="72.40" y2="424.70" stroke="#000" stroke-width="1.7" />
<text x="60.80" y="429.29" font-size="9.2" font-weight="bold" text-anchor="end" fill="#111" stroke="#111" stroke-width="0.12" >0</text>
<line x1="65.30" y1="375.10" x2="72.40" y2="375.10" stroke="#000" stroke-width="1.7" />
<text x="60.80" y="379.69" font-size="9.2" font-weight="bold" text-anchor="end" fill="#111" stroke="#111" stroke-width="0.12" >50</text>
<line x1="65.30" y1="325.50" x2="72.40" y2="325.50" stroke="#000" stroke-width="1.7" />
<text x="60.80" y="330.09" font-size="9.2" font-weight="bold" text-anchor="end" fill="#111" stroke="#111" stroke-width="0.12" >100</text>
<line x1="72.40" y1="424.70" x2="72.40" y2="431.80" stroke="#000" stroke-width="1.9" />
<text x="71.60" y="446.93" font-size="9.3" font-weight="bold" text-anchor="middle" fill="#111" stroke="#111" stroke-width="0.12" >0</text>
<line x1="84.00" y1="424.70" x2="84.00" y2="429.00" stroke="#000" stroke-width="1.5" />
<line x1="95.59" y1="424.70" x2="95.59" y2="429.00" stroke="#000" stroke-width="1.5" />
<line x1="107.19" y1="424.70" x2="107.19" y2="429.00" stroke="#000" stroke-width="1.5" />
<line x1="118.78" y1="424.70" x2="118.78" y2="429.00" stroke="#000" stroke-width="1.5" />
<line x1="130.38" y1="424.70" x2="130.38" y2="429.00" stroke="#000" stroke-width="1.5" />
<line x1="141.98" y1="424.70" x2="141.98" y2="429.00" stroke="#000" stroke-width="1.5" />
<line x1="153.57" y1="424.70" x2="153.57" y2="429.00" stroke="#000" stroke-width="1.5" />
<line x1="165.17" y1="424.70" x2="165.17" y2="429.00" stroke="#000" stroke-width="1.5" />
<line x1="176.76" y1="424.70" x2="176.76" y2="429.00" stroke="#000" stroke-width="1.5" />
<line x1="188.36" y1="424.70" x2="188.36" y2="431.80" stroke="#000" stroke-width="1.9" />
<text x="186.06" y="446.93" font-size="9.3" font-weight="bold" text-anchor="middle" fill="#111" stroke="#111" stroke-width="0.12" >100</text>
<line x1="199.96" y1="424.70" x2="199.96" y2="429.00" stroke="#000" stroke-width="1.5" />
<line x1="211.55" y1="424.70" x2="211.55" y2="429.00" stroke="#000" stroke-width="1.5" />
<line x1="223.15" y1="424.70" x2="223.15" y2="429.00" stroke="#000" stroke-width="1.5" />
<line x1="234.74" y1="424.70" x2="234.74" y2="429.00" stroke="#000" stroke-width="1.5" />
<line x1="246.34" y1="424.70" x2="246.34" y2="429.00" stroke="#000" stroke-width="1.5" />
<line x1="257.94" y1="424.70" x2="257.94" y2="429.00" stroke="#000" stroke-width="1.5" />
<line x1="269.53" y1="424.70" x2="269.53" y2="429.00" stroke="#000" stroke-width="1.5" />
<line x1="281.13" y1="424.70" x2="281.13" y2="429.00" stroke="#000" stroke-width="1.5" />
<line x1="292.72" y1="424.70" x2="292.72" y2="429.00" stroke="#000" stroke-width="1.5" />
<line x1="304.32" y1="424.70" x2="304.32" y2="431.80" stroke="#000" stroke-width="1.9" />
<text x="302.02" y="446.93" font-size="9.3" font-weight="bold" text-anchor="middle" fill="#111" stroke="#111" stroke-width="0.12" >200</text>
<line x1="315.92" y1="424.70" x2="315.92" y2="429.00" stroke="#000" stroke-width="1.5" />
<line x1="327.51" y1="424.70" x2="327.51" y2="429.00" stroke="#000" stroke-width="1.5" />
<line x1="339.11" y1="424.70" x2="339.11" y2="429.00" stroke="#000" stroke-width="1.5" />
<line x1="350.70" y1="424.70" x2="350.70" y2="429.00" stroke="#000" stroke-width="1.5" />
<line x1="362.30" y1="424.70" x2="362.30" y2="429.00" stroke="#000" stroke-width="1.5" />
<line x1="373.90" y1="424.70" x2="373.90" y2="429.00" stroke="#000" stroke-width="1.5" />
<line x1="385.49" y1="424.70" x2="385.49" y2="429.00" stroke="#000" stroke-width="1.5" />
<line x1="397.09" y1="424.70" x2="397.09" y2="429.00" stroke="#000" stroke-width="1.5" />
<line x1="408.68" y1="424.70" x2="408.68" y2="429.00" stroke="#000" stroke-width="1.5" />
<line x1="420.28" y1="424.70" x2="420.28" y2="431.80" stroke="#000" stroke-width="1.9" />
<text x="417.98" y="446.93" font-size="9.3" font-weight="bold" text-anchor="middle" fill="#111" stroke="#111" stroke-width="0.12" >300</text>
<line x1="431.88" y1="424.70" x2="431.88" y2="429.00" stroke="#000" stroke-width="1.5" />
<line x1="443.47" y1="424.70" x2="443.47" y2="429.00" stroke="#000" stroke-width="1.5" />
<line x1="455.07" y1="424.70" x2="455.07" y2="429.00" stroke="#000" stroke-width="1.5" />
<line x1="466.66" y1="424.70" x2="466.66" y2="429.00" stroke="#000" stroke-width="1.5" />
<line x1="478.26" y1="424.70" x2="478.26" y2="429.00" stroke="#000" stroke-width="1.5" />
<line x1="489.86" y1="424.70" x2="489.86" y2="429.00" stroke="#000" stroke-width="1.5" />
<line x1="501.45" y1="424.70" x2="501.45" y2="429.00" stroke="#000" stroke-width="1.5" />
<line x1="513.05" y1="424.70" x2="513.05" y2="429.00" stroke="#000" stroke-width="1.5" />
<line x1="524.64" y1="424.70" x2="524.64" y2="429.00" stroke="#000" stroke-width="1.5" />
<line x1="536.24" y1="424.70" x2="536.24" y2="431.80" stroke="#000" stroke-width="1.9" />
<text x="533.94" y="446.93" font-size="9.3" font-weight="bold" text-anchor="middle" fill="#111" stroke="#111" stroke-width="0.12" >400</text>
<line x1="547.84" y1="424.70" x2="547.84" y2="429.00" stroke="#000" stroke-width="1.5" />
<line x1="559.43" y1="424.70" x2="559.43" y2="429.00" stroke="#000" stroke-width="1.5" />
<line x1="571.03" y1="424.70" x2="571.03" y2="429.00" stroke="#000" stroke-width="1.5" />
<line x1="582.62" y1="424.70" x2="582.62" y2="429.00" stroke="#000" stroke-width="1.5" />
<line x1="594.22" y1="424.70" x2="594.22" y2="429.00" stroke="#000" stroke-width="1.5" />
<line x1="605.82" y1="424.70" x2="605.82" y2="429.00" stroke="#000" stroke-width="1.5" />
<line x1="617.41" y1="424.70" x2="617.41" y2="429.00" stroke="#000" stroke-width="1.5" />
<line x1="629.01" y1="424.70" x2="629.01" y2="429.00" stroke="#000" stroke-width="1.5" />
<line x1="640.60" y1="424.70" x2="640.60" y2="429.00" stroke="#000" stroke-width="1.5" />
<line x1="652.20" y1="424.70" x2="652.20" y2="431.80" stroke="#000" stroke-width="1.9" />
<text x="649.90" y="446.93" font-size="9.3" font-weight="bold" text-anchor="middle" fill="#111" stroke="#111" stroke-width="0.12" >500</text>
<text x="358.50" y="451.09" font-size="10.6" font-weight="bold" text-anchor="middle" fill="#111" stroke="#111" stroke-width="0.12" >Rank</text>
<text transform="translate(23.2,374) rotate(-90)" font-size="10.9" font-weight="bold" text-anchor="middle" fill="#111">Overall analysis score</text>
<text transform="translate(38.2,377) rotate(-90)" font-size="9.5" text-anchor="middle" fill="#222">(out of 100)</text>
<path d="M72.40,329.10 L89.20,330.00 L114.00,331.30 L121.30,333.00 L128.60,334.30 L135.90,335.50 L139.60,337.30 L146.00,338.40 L160.00,339.20 L180.00,340.00 L200.00,341.60 L210.00,343.60 L220.00,344.40 L224.00,346.00 L232.00,348.60 L250.00,349.00 L270.00,349.60 L282.00,351.60 L284.00,353.60 L296.00,354.60 L306.00,357.00 L312.00,359.00 L326.00,361.00 L328.00,362.60 L348.00,364.40 L356.00,366.60 L380.00,367.10 L416.00,368.00 L443.30,370.00 L455.00,373.00 L465.00,375.00 L475.60,376.20 L535.00,377.00 L557.00,378.50 L570.00,379.00 L573.00,380.60 L583.00,381.00 L590.00,385.00 L610.00,386.00 L628.00,388.40 L635.00,395.00 L640.00,396.00 L647.00,397.00 L648.00,404.00 L651.00,405.00 L653.00,408.00" stroke="#65a5fc" stroke-width="1.8" fill="none" stroke-linejoin="round" stroke-linecap="round" />
<path d="M69.10,319.30 L78.10,319.30 L73.60,327.50 Z" fill="#f53a41" stroke="none" stroke-width="0.5" stroke-linejoin="round"/>
<path d="M70.80,319.45 L79.80,319.45 L75.30,327.65 Z" fill="#f53a41" stroke="none" stroke-width="0.5" stroke-linejoin="round"/>
<path d="M73.50,319.69 L82.50,319.69 L78.00,327.89 Z" fill="#f53a41" stroke="none" stroke-width="0.5" stroke-linejoin="round"/>
<path d="M75.90,319.91 L84.90,319.91 L80.40,328.11 Z" fill="#f53a41" stroke="none" stroke-width="0.5" stroke-linejoin="round"/>
<path d="M79.50,320.23 L88.50,320.23 L84.00,328.43 Z" fill="#f53a41" stroke="none" stroke-width="0.5" stroke-linejoin="round"/>
<path d="M82.50,320.50 L91.50,320.50 L87.00,328.70 Z" fill="#f53a41" stroke="none" stroke-width="0.5" stroke-linejoin="round"/>
<path d="M87.50,320.94 L96.50,320.94 L92.00,329.14 Z" fill="#f53a41" stroke="none" stroke-width="0.5" stroke-linejoin="round"/>
<path d="M92.70,321.41 L101.70,321.41 L97.20,329.61 Z" fill="#f53a41" stroke="none" stroke-width="0.5" stroke-linejoin="round"/>
<path d="M97.80,321.86 L106.80,321.86 L102.30,330.06 Z" fill="#f53a41" stroke="none" stroke-width="0.5" stroke-linejoin="round"/>
<path d="M102.50,322.28 L111.50,322.28 L107.00,330.48 Z" fill="#f53a41" stroke="none" stroke-width="0.5" stroke-linejoin="round"/>
<path d="M107.50,322.73 L116.50,322.73 L112.00,330.93 Z" fill="#f53a41" stroke="none" stroke-width="0.5" stroke-linejoin="round"/>
<path d="M112.50,323.18 L121.50,323.18 L117.00,331.38 Z" fill="#f53a41" stroke="none" stroke-width="0.5" stroke-linejoin="round"/>
<path d="M117.50,323.62 L126.50,323.62 L122.00,331.82 Z" fill="#f53a41" stroke="none" stroke-width="0.5" stroke-linejoin="round"/>
<path d="M121.70,324.00 L130.70,324.00 L126.20,332.20 Z" fill="#f53a41" stroke="none" stroke-width="0.5" stroke-linejoin="round"/>
<path d="M143.50,328.80 L152.50,328.80 L148.00,337.00 Z" fill="#f53a41" stroke="none" stroke-width="0.5" stroke-linejoin="round"/>
<path d="M148.00,328.80 L157.00,328.80 L152.50,337.00 Z" fill="#f53a41" stroke="none" stroke-width="0.5" stroke-linejoin="round"/>
<path d="M155.50,328.80 L164.50,328.80 L160.00,337.00 Z" fill="#f53a41" stroke="none" stroke-width="0.5" stroke-linejoin="round"/>
<path d="M201.10,332.40 L210.10,332.40 L205.60,340.60 Z" fill="#f53a41" stroke="none" stroke-width="0.5" stroke-linejoin="round"/>
<path d="M350.10,356.00 L359.10,356.00 L354.60,364.20 Z" fill="#f53a41" stroke="none" stroke-width="0.5" stroke-linejoin="round"/>
<path d="M465.50,365.80 L474.50,365.80 L470.00,374.00 Z" fill="#f53a41" stroke="none" stroke-width="0.5" stroke-linejoin="round"/>
<path d="M104.50,316.60 L104.50,313.35 M104.50,316.60 L101.41,315.60 M104.50,316.60 L102.59,319.23 M104.50,316.60 L106.41,319.23 M104.50,316.60 L107.59,315.60 " stroke="#111" stroke-width="1.40" stroke-linecap="round"/>
<path d="M148.30,316.40 L148.30,313.15 M148.30,316.40 L145.21,315.40 M148.30,316.40 L146.39,319.03 M148.30,316.40 L150.21,319.03 M148.30,316.40 L151.39,315.40 " stroke="#111" stroke-width="1.40" stroke-linecap="round"/>
<path d="M148.30,324.00 L148.30,320.75 M148.30,324.00 L145.21,323.00 M148.30,324.00 L146.39,326.63 M148.30,324.00 L150.21,326.63 M148.30,324.00 L151.39,323.00 " stroke="#111" stroke-width="1.40" stroke-linecap="round"/>
<path d="M354.60,351.00 L354.60,347.75 M354.60,351.00 L351.51,350.00 M354.60,351.00 L352.69,353.63 M354.60,351.00 L356.51,353.63 M354.60,351.00 L357.69,350.00 " stroke="#111" stroke-width="1.40" stroke-linecap="round"/>
<line x1="89.60" y1="385.40" x2="108.00" y2="385.40" stroke="#65a5fc" stroke-width="1.6" />
<text x="115.00" y="390.72" font-size="11.5" text-anchor="start" fill="#222" stroke="#222" stroke-width="0.2" >All analyzed motifs&#160;&#160;(501)</text>
<path d="M261.10,381.20 L270.10,381.20 L265.60,389.80 Z" fill="#f53a41" stroke="none" stroke-width="0.5" stroke-linejoin="round"/>
<text x="277.00" y="390.72" font-size="11.5" text-anchor="start" fill="#222" stroke="#222" stroke-width="0.2" >Previously validated&#160;&#160;(27)</text>
<path d="M103.00,408.20 L103.00,404.10 M103.00,408.20 L99.10,406.93 M103.00,408.20 L100.59,411.52 M103.00,408.20 L105.41,411.52 M103.00,408.20 L106.90,406.93 " stroke="#111" stroke-width="1.74" stroke-linecap="round"/>
<text x="115.00" y="411.15" font-size="11.6" text-anchor="start" fill="#222" stroke="#222" stroke-width="0.2" >Validated in studies based on preliminary Scansite rankings</text>
<rect x="426.4" y="306" width="228.2" height="54.4" fill="#fff" stroke="#444" stroke-width="1"/>
<line x1="453.90" y1="317.40" x2="453.90" y2="342.50" stroke="#000" stroke-width="1.8" />
<line x1="453.00" y1="341.50" x2="647.80" y2="341.50" stroke="#000" stroke-width="1.9" />
<line x1="446.00" y1="318.00" x2="453.90" y2="318.00" stroke="#000" stroke-width="1.6" />
<text x="445.30" y="321.75" font-size="8.8" font-weight="bold" text-anchor="end" fill="#111" stroke="#111" stroke-width="0.12" >100</text>
<line x1="446.00" y1="341.50" x2="453.90" y2="341.50" stroke="#000" stroke-width="1.6" />
<text x="445.30" y="345.25" font-size="8.8" font-weight="bold" text-anchor="end" fill="#111" stroke="#111" stroke-width="0.12" >88</text>
<line x1="453.90" y1="341.50" x2="453.90" y2="347.50" stroke="#000" stroke-width="1.6" />
<text x="453.90" y="357.64" font-size="8.5" font-weight="bold" text-anchor="middle" fill="#111" stroke="#111" stroke-width="0.12" >0</text>
<line x1="478.02" y1="341.50" x2="478.02" y2="346.00" stroke="#000" stroke-width="1.6" />
<line x1="502.15" y1="341.50" x2="502.15" y2="346.00" stroke="#000" stroke-width="1.6" />
<line x1="526.27" y1="341.50" x2="526.27" y2="346.00" stroke="#000" stroke-width="1.6" />
<line x1="550.40" y1="341.50" x2="550.40" y2="347.50" stroke="#000" stroke-width="1.6" />
<text x="550.40" y="357.64" font-size="8.5" font-weight="bold" text-anchor="middle" fill="#111" stroke="#111" stroke-width="0.12" >40</text>
<line x1="574.52" y1="341.50" x2="574.52" y2="346.00" stroke="#000" stroke-width="1.6" />
<line x1="598.65" y1="341.50" x2="598.65" y2="346.00" stroke="#000" stroke-width="1.6" />
<line x1="622.77" y1="341.50" x2="622.77" y2="346.00" stroke="#000" stroke-width="1.6" />
<line x1="646.90" y1="341.50" x2="646.90" y2="347.50" stroke="#000" stroke-width="1.6" />
<text x="646.90" y="357.64" font-size="8.5" font-weight="bold" text-anchor="middle" fill="#111" stroke="#111" stroke-width="0.12" >80</text>
<path d="M453.90,318.80 L470.00,320.50 L517.00,322.60 L540.00,323.70 L557.50,326.30 L563.00,327.30 L568.00,328.60 L575.00,331.50 L585.50,334.20 L597.80,336.40 L610.00,338.20 L627.60,339.40 L646.90,340.60" stroke="#65a5fc" stroke-width="1.8" fill="none" stroke-linejoin="round" stroke-linecap="round" />
<path d="M451.00,309.60 L459.80,309.60 L455.40,317.80 Z" fill="#f53a41" stroke="none" stroke-width="0.5" stroke-linejoin="round"/>
<path d="M453.40,309.60 L462.20,309.60 L457.80,317.80 Z" fill="#f53a41" stroke="none" stroke-width="0.5" stroke-linejoin="round"/>
<path d="M461.60,311.00 L470.40,311.00 L466.00,319.20 Z" fill="#a346f0" stroke="none" stroke-width="0.5" stroke-linejoin="round"/>
<path d="M464.60,311.00 L473.40,311.00 L469.00,319.20 Z" fill="#a346f0" stroke="none" stroke-width="0.5" stroke-linejoin="round"/>
<path d="M467.60,311.00 L476.40,311.00 L472.00,319.20 Z" fill="#a346f0" stroke="none" stroke-width="0.5" stroke-linejoin="round"/>
<path d="M470.60,311.00 L479.40,311.00 L475.00,319.20 Z" fill="#a346f0" stroke="none" stroke-width="0.5" stroke-linejoin="round"/>
<path d="M473.60,311.10 L482.40,311.10 L478.00,319.30 Z" fill="#a346f0" stroke="none" stroke-width="0.5" stroke-linejoin="round"/>
<path d="M476.60,311.20 L485.40,311.20 L481.00,319.40 Z" fill="#a346f0" stroke="none" stroke-width="0.5" stroke-linejoin="round"/>
<path d="M480.10,311.30 L488.90,311.30 L484.50,319.50 Z" fill="#a346f0" stroke="none" stroke-width="0.5" stroke-linejoin="round"/>
<path d="M484.60,311.40 L493.40,311.40 L489.00,319.60 Z" fill="#a346f0" stroke="none" stroke-width="0.5" stroke-linejoin="round"/>
<path d="M494.10,312.40 L502.90,312.40 L498.50,320.60 Z" fill="#f53a41" stroke="none" stroke-width="0.5" stroke-linejoin="round"/>
<path d="M498.60,312.40 L507.40,312.40 L503.00,320.60 Z" fill="#a346f0" stroke="none" stroke-width="0.5" stroke-linejoin="round"/>
<path d="M504.60,312.80 L513.40,312.80 L509.00,321.00 Z" fill="#f53a41" stroke="none" stroke-width="0.5" stroke-linejoin="round"/>
<path d="M513.10,313.20 L521.90,313.20 L517.50,321.40 Z" fill="#f53a41" stroke="none" stroke-width="0.5" stroke-linejoin="round"/>
<path d="M523.10,314.00 L531.90,314.00 L527.50,322.20 Z" fill="#f53a41" stroke="none" stroke-width="0.5" stroke-linejoin="round"/>
<path d="M534.10,314.80 L542.90,314.80 L538.50,323.00 Z" fill="#f53a41" stroke="none" stroke-width="0.5" stroke-linejoin="round"/>
<path d="M545.80,316.00 L554.60,316.00 L550.20,324.20 Z" fill="#f53a41" stroke="none" stroke-width="0.5" stroke-linejoin="round"/>
<path d="M555.20,317.00 L564.00,317.00 L559.60,325.20 Z" fill="#f53a41" stroke="none" stroke-width="0.5" stroke-linejoin="round"/>
<path d="M604.80,328.00 L613.60,328.00 L609.20,336.20 Z" fill="#f53a41" stroke="none" stroke-width="0.5" stroke-linejoin="round"/>
<path d="M607.40,328.00 L616.20,328.00 L611.80,336.20 Z" fill="#f53a41" stroke="none" stroke-width="0.5" stroke-linejoin="round"/>
<path d="M616.20,329.30 L625.00,329.30 L620.60,337.50 Z" fill="#f53a41" stroke="none" stroke-width="0.5" stroke-linejoin="round"/>
<path d="M628.50,330.30 L637.30,330.30 L632.90,338.50 Z" fill="#f53a41" stroke="none" stroke-width="0.5" stroke-linejoin="round"/>
<path d="M630.20,330.30 L639.00,330.30 L634.60,338.50 Z" fill="#f53a41" stroke="none" stroke-width="0.5" stroke-linejoin="round"/>
<path d="M462.60,329.00 L470.20,329.00 L466.40,336.40 Z" fill="#a346f0" stroke="none" stroke-width="0.5" stroke-linejoin="round"/>
<text x="473.00" y="335.80" font-size="9.5" text-anchor="start" fill="#222" stroke="#222" stroke-width="0.2" >WNKs</text>
<text x="192.30" y="471.33" font-size="12.1" font-weight="bold" text-anchor="middle" fill="#111" stroke="#111" stroke-width="0.12" >Distribution of final scores</text>
<rect x="61.10" y="534.30" width="4.50" height="104.70" fill="#65a5fc" />
<rect x="61.10" y="508.80" width="4.50" height="13.50" fill="#65a5fc" />
<rect x="55.10" y="549.99" width="4.30" height="89.01" fill="#f53a41" />
<rect x="77.88" y="534.30" width="4.50" height="104.70" fill="#65a5fc" />
<rect x="71.88" y="628.44" width="4.30" height="10.56" fill="#f53a41" />
<rect x="94.65" y="534.30" width="4.50" height="104.70" fill="#65a5fc" />
<rect x="94.65" y="501.30" width="4.50" height="21.00" fill="#65a5fc" />
<rect x="88.65" y="612.75" width="4.30" height="26.25" fill="#f53a41" />
<rect x="111.43" y="534.30" width="4.50" height="104.70" fill="#65a5fc" />
<rect x="111.43" y="520.05" width="4.50" height="2.25" fill="#65a5fc" />
<rect x="105.43" y="633.67" width="4.30" height="5.33" fill="#f53a41" />
<rect x="128.20" y="534.30" width="4.50" height="104.70" fill="#65a5fc" />
<rect x="128.20" y="507.30" width="4.50" height="15.00" fill="#65a5fc" />
<rect x="144.98" y="534.30" width="4.50" height="104.70" fill="#65a5fc" />
<rect x="144.98" y="520.05" width="4.50" height="2.25" fill="#65a5fc" />
<rect x="161.76" y="539.53" width="4.50" height="99.47" fill="#65a5fc" />
<rect x="178.53" y="534.30" width="4.50" height="104.70" fill="#65a5fc" />
<rect x="178.53" y="520.80" width="4.50" height="1.50" fill="#65a5fc" />
<rect x="195.31" y="534.30" width="4.50" height="104.70" fill="#65a5fc" />
<rect x="195.31" y="483.30" width="4.50" height="39.00" fill="#65a5fc" />
<rect x="189.31" y="633.67" width="4.30" height="5.33" fill="#f53a41" />
<rect x="212.08" y="534.30" width="4.50" height="104.70" fill="#65a5fc" />
<rect x="212.08" y="519.30" width="4.50" height="3.00" fill="#65a5fc" />
<rect x="228.86" y="534.30" width="4.50" height="104.70" fill="#65a5fc" />
<rect x="228.86" y="477.30" width="4.50" height="45.00" fill="#65a5fc" />
<rect x="222.86" y="633.67" width="4.30" height="5.33" fill="#f53a41" />
<rect x="245.64" y="534.30" width="4.50" height="104.70" fill="#65a5fc" />
<rect x="245.64" y="519.30" width="4.50" height="3.00" fill="#65a5fc" />
<rect x="262.41" y="534.30" width="4.50" height="104.70" fill="#65a5fc" />
<rect x="262.41" y="517.05" width="4.50" height="5.25" fill="#65a5fc" />
<rect x="279.19" y="581.37" width="4.50" height="57.63" fill="#65a5fc" />
<rect x="295.96" y="581.37" width="4.50" height="57.63" fill="#65a5fc" />
<rect x="312.74" y="628.44" width="4.50" height="10.56" fill="#65a5fc" />
<rect x="329.52" y="623.21" width="4.50" height="15.79" fill="#65a5fc" />
<rect x="346.29" y="628.44" width="4.50" height="10.56" fill="#65a5fc" />
<line x1="49.50" y1="476.40" x2="49.50" y2="523.50" stroke="#000" stroke-width="2.3" />
<line x1="49.50" y1="533.30" x2="49.50" y2="640.00" stroke="#000" stroke-width="2.3" />
<line x1="42.00" y1="477.50" x2="50.60" y2="477.50" stroke="#000" stroke-width="2.2" />
<line x1="42.00" y1="522.50" x2="54.00" y2="522.50" stroke="#000" stroke-width="2.2" />
<line x1="42.00" y1="534.30" x2="54.00" y2="534.30" stroke="#000" stroke-width="2.2" />
<line x1="42.00" y1="586.80" x2="49.50" y2="586.80" stroke="#000" stroke-width="2.2" />
<line x1="42.00" y1="639.20" x2="351.00" y2="639.20" stroke="#000" stroke-width="2.4" />
<line x1="60.20" y1="639.00" x2="60.20" y2="646.40" stroke="#000" stroke-width="2.2" />
<line x1="76.98" y1="639.00" x2="76.98" y2="646.40" stroke="#000" stroke-width="2.2" />
<line x1="93.75" y1="639.00" x2="93.75" y2="646.40" stroke="#000" stroke-width="2.2" />
<line x1="110.53" y1="639.00" x2="110.53" y2="646.40" stroke="#000" stroke-width="2.2" />
<line x1="127.30" y1="639.00" x2="127.30" y2="646.40" stroke="#000" stroke-width="2.2" />
<line x1="144.08" y1="639.00" x2="144.08" y2="646.40" stroke="#000" stroke-width="2.2" />
<line x1="160.86" y1="639.00" x2="160.86" y2="646.40" stroke="#000" stroke-width="2.2" />
<line x1="177.63" y1="639.00" x2="177.63" y2="646.40" stroke="#000" stroke-width="2.2" />
<line x1="194.41" y1="639.00" x2="194.41" y2="646.40" stroke="#000" stroke-width="2.2" />
<line x1="211.18" y1="639.00" x2="211.18" y2="646.40" stroke="#000" stroke-width="2.2" />
<line x1="227.96" y1="639.00" x2="227.96" y2="646.40" stroke="#000" stroke-width="2.2" />
<line x1="244.74" y1="639.00" x2="244.74" y2="646.40" stroke="#000" stroke-width="2.2" />
<line x1="261.51" y1="639.00" x2="261.51" y2="646.40" stroke="#000" stroke-width="2.2" />
<line x1="278.29" y1="639.00" x2="278.29" y2="646.40" stroke="#000" stroke-width="2.2" />
<line x1="295.06" y1="639.00" x2="295.06" y2="646.40" stroke="#000" stroke-width="2.2" />
<line x1="311.84" y1="639.00" x2="311.84" y2="646.40" stroke="#000" stroke-width="2.2" />
<line x1="328.62" y1="639.00" x2="328.62" y2="646.40" stroke="#000" stroke-width="2.2" />
<line x1="345.39" y1="639.00" x2="345.39" y2="646.40" stroke="#000" stroke-width="2.2" />
<text x="40.80" y="481.40" font-size="10.9" font-weight="bold" text-anchor="end" fill="#111" stroke="#111" stroke-width="0.12" >81</text>
<text x="40.80" y="526.40" font-size="10.9" font-weight="bold" text-anchor="end" fill="#111" stroke="#111" stroke-width="0.12" >21</text>
<text x="40.80" y="538.40" font-size="10.9" font-weight="bold" text-anchor="end" fill="#111" stroke="#111" stroke-width="0.12" >20</text>
<text x="40.80" y="590.90" font-size="10.9" font-weight="bold" text-anchor="end" fill="#111" stroke="#111" stroke-width="0.12" >10</text>
<text x="40.80" y="642.90" font-size="10.9" font-weight="bold" text-anchor="end" fill="#111" stroke="#111" stroke-width="0.12" >0</text>
<text transform="translate(13.6,562) rotate(-90)" font-size="10.75" font-weight="bold" text-anchor="middle" fill="#111">Number of motifs</text>
<rect x="277.4" y="480.4" width="83" height="46" fill="#fff" stroke="#555" stroke-width="1"/>
<rect x="282.00" y="485.60" width="13.60" height="6.40" fill="#65a5fc" />
<rect x="282.00" y="502.40" width="13.60" height="7.00" fill="#f53a41" />
<text x="303.60" y="492.62" font-size="10.1" font-weight="bold" text-anchor="start" fill="#111" stroke="#111" stroke-width="0.12" >Total</text>
<text x="303.60" y="509.62" font-size="10.1" font-weight="bold" text-anchor="start" fill="#111" stroke="#111" stroke-width="0.12" >Previously</text>
<text x="303.60" y="521.60" font-size="10.1" font-weight="bold" text-anchor="start" fill="#111" stroke="#111" stroke-width="0.12" >validated</text>
<text x="48.00" y="659.43" font-size="10.7" font-weight="bold" text-anchor="end" fill="#111" stroke="#111" stroke-width="0.12" >Total</text>
<text x="48.00" y="672.83" font-size="10.7" font-weight="bold" text-anchor="end" fill="#111" stroke="#111" stroke-width="0.12" >Validated</text>
<text x="60.70" y="659.43" font-size="10.7" font-weight="bold" text-anchor="middle" fill="#65a5fc" stroke="#65a5fc" stroke-width="0.12" >39</text>
<text x="60.70" y="672.83" font-size="10.7" font-weight="bold" text-anchor="middle" fill="#f53a41" stroke="#f53a41" stroke-width="0.12" >17</text>
<text transform="translate(62.00,682.6) rotate(-45)" font-size="10.2" text-anchor="end" fill="#222" stroke="#222" stroke-width="0.22">95-100</text>
<text x="77.48" y="659.43" font-size="10.7" font-weight="bold" text-anchor="middle" fill="#65a5fc" stroke="#65a5fc" stroke-width="0.12" >21</text>
<text x="77.48" y="672.83" font-size="10.7" font-weight="bold" text-anchor="middle" fill="#f53a41" stroke="#f53a41" stroke-width="0.12" >2</text>
<text transform="translate(78.78,682.6) rotate(-45)" font-size="10.2" text-anchor="end" fill="#222" stroke="#222" stroke-width="0.22">90-95</text>
<text x="94.25" y="659.43" font-size="10.7" font-weight="bold" text-anchor="middle" fill="#65a5fc" stroke="#65a5fc" stroke-width="0.12" >49</text>
<text x="94.25" y="672.83" font-size="10.7" font-weight="bold" text-anchor="middle" fill="#f53a41" stroke="#f53a41" stroke-width="0.12" >5</text>
<text transform="translate(95.55,682.6) rotate(-45)" font-size="10.2" text-anchor="end" fill="#222" stroke="#222" stroke-width="0.22">85-90</text>
<text x="111.03" y="659.43" font-size="10.7" font-weight="bold" text-anchor="middle" fill="#65a5fc" stroke="#65a5fc" stroke-width="0.12" >24</text>
<text x="111.03" y="672.83" font-size="10.7" font-weight="bold" text-anchor="middle" fill="#f53a41" stroke="#f53a41" stroke-width="0.12" >1</text>
<text transform="translate(112.33,682.6) rotate(-45)" font-size="10.2" text-anchor="end" fill="#222" stroke="#222" stroke-width="0.22">80-85</text>
<text x="127.80" y="659.43" font-size="10.7" font-weight="bold" text-anchor="middle" fill="#65a5fc" stroke="#65a5fc" stroke-width="0.12" >41</text>
<text x="127.80" y="672.83" font-size="10.7" font-weight="bold" text-anchor="middle" fill="#f53a41" stroke="#f53a41" stroke-width="0.12" >-</text>
<text transform="translate(129.10,682.6) rotate(-45)" font-size="10.2" text-anchor="end" fill="#222" stroke="#222" stroke-width="0.22">75-80</text>
<text x="144.58" y="659.43" font-size="10.7" font-weight="bold" text-anchor="middle" fill="#65a5fc" stroke="#65a5fc" stroke-width="0.12" >24</text>
<text x="144.58" y="672.83" font-size="10.7" font-weight="bold" text-anchor="middle" fill="#f53a41" stroke="#f53a41" stroke-width="0.12" >-</text>
<text transform="translate(145.88,682.6) rotate(-45)" font-size="10.2" text-anchor="end" fill="#222" stroke="#222" stroke-width="0.22">70-75</text>
<text x="161.36" y="659.43" font-size="10.7" font-weight="bold" text-anchor="middle" fill="#65a5fc" stroke="#65a5fc" stroke-width="0.12" >19</text>
<text x="161.36" y="672.83" font-size="10.7" font-weight="bold" text-anchor="middle" fill="#f53a41" stroke="#f53a41" stroke-width="0.12" >-</text>
<text transform="translate(162.66,682.6) rotate(-45)" font-size="10.2" text-anchor="end" fill="#222" stroke="#222" stroke-width="0.22">65-70</text>
<text x="178.13" y="659.43" font-size="10.7" font-weight="bold" text-anchor="middle" fill="#65a5fc" stroke="#65a5fc" stroke-width="0.12" >23</text>
<text x="178.13" y="672.83" font-size="10.7" font-weight="bold" text-anchor="middle" fill="#f53a41" stroke="#f53a41" stroke-width="0.12" >-</text>
<text transform="translate(179.43,682.6) rotate(-45)" font-size="10.2" text-anchor="end" fill="#222" stroke="#222" stroke-width="0.22">60-65</text>
<text x="194.91" y="659.43" font-size="10.7" font-weight="bold" text-anchor="middle" fill="#65a5fc" stroke="#65a5fc" stroke-width="0.12" >73</text>
<text x="194.91" y="672.83" font-size="10.7" font-weight="bold" text-anchor="middle" fill="#f53a41" stroke="#f53a41" stroke-width="0.12" >1</text>
<text transform="translate(196.21,682.6) rotate(-45)" font-size="10.2" text-anchor="end" fill="#222" stroke="#222" stroke-width="0.22">55-60</text>
<text x="211.68" y="659.43" font-size="10.7" font-weight="bold" text-anchor="middle" fill="#65a5fc" stroke="#65a5fc" stroke-width="0.12" >25</text>
<text x="211.68" y="672.83" font-size="10.7" font-weight="bold" text-anchor="middle" fill="#f53a41" stroke="#f53a41" stroke-width="0.12" >-</text>
<text transform="translate(212.98,682.6) rotate(-45)" font-size="10.2" text-anchor="end" fill="#222" stroke="#222" stroke-width="0.22">50-55</text>
<text x="228.46" y="659.43" font-size="10.7" font-weight="bold" text-anchor="middle" fill="#65a5fc" stroke="#65a5fc" stroke-width="0.12" >81</text>
<text x="228.46" y="672.83" font-size="10.7" font-weight="bold" text-anchor="middle" fill="#f53a41" stroke="#f53a41" stroke-width="0.12" >1</text>
<text transform="translate(229.76,682.6) rotate(-45)" font-size="10.2" text-anchor="end" fill="#222" stroke="#222" stroke-width="0.22">45-50</text>
<text x="245.24" y="659.43" font-size="10.7" font-weight="bold" text-anchor="middle" fill="#65a5fc" stroke="#65a5fc" stroke-width="0.12" >25</text>
<text x="245.24" y="672.83" font-size="10.7" font-weight="bold" text-anchor="middle" fill="#f53a41" stroke="#f53a41" stroke-width="0.12" >-</text>
<text transform="translate(246.54,682.6) rotate(-45)" font-size="10.2" text-anchor="end" fill="#222" stroke="#222" stroke-width="0.22">40-45</text>
<text x="262.01" y="659.43" font-size="10.7" font-weight="bold" text-anchor="middle" fill="#65a5fc" stroke="#65a5fc" stroke-width="0.12" >28</text>
<text x="262.01" y="672.83" font-size="10.7" font-weight="bold" text-anchor="middle" fill="#f53a41" stroke="#f53a41" stroke-width="0.12" >-</text>
<text transform="translate(263.31,682.6) rotate(-45)" font-size="10.2" text-anchor="end" fill="#222" stroke="#222" stroke-width="0.22">35-40</text>
<text x="278.79" y="659.43" font-size="10.7" font-weight="bold" text-anchor="middle" fill="#65a5fc" stroke="#65a5fc" stroke-width="0.12" >11</text>
<text x="278.79" y="672.83" font-size="10.7" font-weight="bold" text-anchor="middle" fill="#f53a41" stroke="#f53a41" stroke-width="0.12" >-</text>
<text transform="translate(280.09,682.6) rotate(-45)" font-size="10.2" text-anchor="end" fill="#222" stroke="#222" stroke-width="0.22">30-35</text>
<text x="295.56" y="659.43" font-size="10.7" font-weight="bold" text-anchor="middle" fill="#65a5fc" stroke="#65a5fc" stroke-width="0.12" >11</text>
<text x="295.56" y="672.83" font-size="10.7" font-weight="bold" text-anchor="middle" fill="#f53a41" stroke="#f53a41" stroke-width="0.12" >-</text>
<text transform="translate(296.86,682.6) rotate(-45)" font-size="10.2" text-anchor="end" fill="#222" stroke="#222" stroke-width="0.22">25-30</text>
<text x="312.34" y="659.43" font-size="10.7" font-weight="bold" text-anchor="middle" fill="#65a5fc" stroke="#65a5fc" stroke-width="0.12" >2</text>
<text x="312.34" y="672.83" font-size="10.7" font-weight="bold" text-anchor="middle" fill="#f53a41" stroke="#f53a41" stroke-width="0.12" >-</text>
<text transform="translate(313.64,682.6) rotate(-45)" font-size="10.2" text-anchor="end" fill="#222" stroke="#222" stroke-width="0.22">20-25</text>
<text x="329.12" y="659.43" font-size="10.7" font-weight="bold" text-anchor="middle" fill="#65a5fc" stroke="#65a5fc" stroke-width="0.12" >3</text>
<text x="329.12" y="672.83" font-size="10.7" font-weight="bold" text-anchor="middle" fill="#f53a41" stroke="#f53a41" stroke-width="0.12" >-</text>
<text transform="translate(330.42,682.6) rotate(-45)" font-size="10.2" text-anchor="end" fill="#222" stroke="#222" stroke-width="0.22">15-20</text>
<text x="345.89" y="659.43" font-size="10.7" font-weight="bold" text-anchor="middle" fill="#65a5fc" stroke="#65a5fc" stroke-width="0.12" >2</text>
<text x="345.89" y="672.83" font-size="10.7" font-weight="bold" text-anchor="middle" fill="#f53a41" stroke="#f53a41" stroke-width="0.12" >-</text>
<text transform="translate(347.19,682.6) rotate(-45)" font-size="10.2" text-anchor="end" fill="#222" stroke="#222" stroke-width="0.22">10-15</text>
<text x="195.50" y="712.87" font-size="10.8" font-weight="bold" text-anchor="middle" fill="#111" stroke="#111" stroke-width="0.12" >Binned final motif scores</text>
<text x="528.30" y="481.70" font-size="12" font-weight="bold" text-anchor="middle" fill="#111" stroke="#111" stroke-width="0.12" >Gene Ontology -</text>
<text x="527.50" y="495.93" font-size="12.1" font-weight="bold" text-anchor="middle" fill="#111" stroke="#111" stroke-width="0.12" >biological process enrichment</text>
<rect x="572.00" y="543.30" width="25.60" height="12.14" fill="#e9969f" />
<rect x="572.00" y="555.44" width="25.60" height="36.43" fill="#efb6bd" />
<rect x="572.00" y="591.87" width="25.60" height="24.28" fill="#f1c0c6" />
<rect x="572.00" y="616.15" width="25.60" height="24.28" fill="#f4d0d4" />
<rect x="572.00" y="640.43" width="25.60" height="12.14" fill="#f6dde0" />
<rect x="572.00" y="652.58" width="25.60" height="36.43" fill="#f9e9eb" />
<rect x="369.4" y="507" width="314.10" height="182.00" fill="none" stroke="#666" stroke-width="1.1"/>
<line x1="369.40" y1="543.30" x2="683.50" y2="543.30" stroke="#444" stroke-width="1.1" />
<line x1="528.60" y1="507.00" x2="528.60" y2="689.00" stroke="#444" stroke-width="1.1" />
<line x1="572.00" y1="507.00" x2="572.00" y2="543.30" stroke="#444" stroke-width="1.1" />
<line x1="597.60" y1="507.00" x2="597.60" y2="543.30" stroke="#444" stroke-width="1.1" />
<line x1="636.60" y1="507.00" x2="636.60" y2="543.30" stroke="#444" stroke-width="1.1" />
<text x="449.00" y="529.36" font-size="10.5" font-weight="bold" text-anchor="middle" fill="#111" stroke="#111" stroke-width="0.12" >GO biological process</text>
<text x="550.10" y="517.32" font-size="10.4" font-weight="bold" text-anchor="middle" fill="#111" stroke="#111" stroke-width="0.12" >total</text>
<text x="550.10" y="529.12" font-size="10.4" font-weight="bold" text-anchor="middle" fill="#111" stroke="#111" stroke-width="0.12" >human</text>
<text x="550.10" y="540.72" font-size="10.4" font-weight="bold" text-anchor="middle" fill="#111" stroke="#111" stroke-width="0.12" >(20592)</text>
<text x="584.80" y="529.12" font-size="10.4" font-weight="bold" text-anchor="middle" fill="#111" stroke="#111" stroke-width="0.12" >top</text>
<text x="584.80" y="540.72" font-size="10.4" font-weight="bold" text-anchor="middle" fill="#111" stroke="#111" stroke-width="0.12" >50</text>
<text x="617.00" y="529.12" font-size="10.4" font-weight="bold" text-anchor="middle" fill="#111" stroke="#111" stroke-width="0.12" >fold-</text>
<text x="617.00" y="540.72" font-size="10.4" font-weight="bold" text-anchor="middle" fill="#111" stroke="#111" stroke-width="0.12" >enrich</text>
<text x="660.00" y="529.12" font-size="10.4" font-weight="bold" text-anchor="middle" fill="#111" stroke="#111" stroke-width="0.12" >FDR</text>
<text x="660.00" y="540.72" font-size="10.4" font-weight="bold" text-anchor="middle" fill="#111" stroke="#111" stroke-width="0.12" >(top 50)</text>
<text x="525.00" y="554.09" font-size="10.4" text-anchor="end" fill="#222" stroke="#222" stroke-width="0.2" >protein phosphorylation</text>
<text x="550.10" y="554.06" font-size="10.3" text-anchor="middle" fill="#222" stroke="#222" stroke-width="0.2" >492</text>
<text x="584.80" y="554.06" font-size="10.3" text-anchor="middle" fill="#222" stroke="#222" stroke-width="0.2" >9</text>
<text x="617.00" y="554.06" font-size="10.3" text-anchor="middle" fill="#222" stroke="#222" stroke-width="0.2" >7.53</text>
<text x="660.00" y="554.06" font-size="10.3" text-anchor="middle" fill="#222" stroke="#222" stroke-width="0.2" >1.8E-03</text>
<text x="525.00" y="566.24" font-size="10.4" text-anchor="end" fill="#222" stroke="#222" stroke-width="0.2" >cell volume homeostasis</text>
<text x="550.10" y="566.20" font-size="10.3" text-anchor="middle" fill="#222" stroke="#222" stroke-width="0.2" >37</text>
<text x="584.80" y="566.20" font-size="10.3" text-anchor="middle" fill="#222" stroke="#222" stroke-width="0.2" >6</text>
<text x="617.00" y="566.20" font-size="10.3" text-anchor="middle" fill="#222" stroke="#222" stroke-width="0.2" >66.78</text>
<text x="660.00" y="566.20" font-size="10.3" text-anchor="middle" fill="#222" stroke="#222" stroke-width="0.2" >1.7E-06</text>
<text x="525.00" y="578.38" font-size="10.4" text-anchor="end" fill="#222" stroke="#222" stroke-width="0.2" >neg. reg. protein ubiquitination</text>
<text x="550.10" y="578.34" font-size="10.3" text-anchor="middle" fill="#222" stroke="#222" stroke-width="0.2" >76</text>
<text x="584.80" y="578.34" font-size="10.3" text-anchor="middle" fill="#222" stroke="#222" stroke-width="0.2" >6</text>
<text x="617.00" y="578.34" font-size="10.3" text-anchor="middle" fill="#222" stroke="#222" stroke-width="0.2" >32.51</text>
<text x="660.00" y="578.34" font-size="10.3" text-anchor="middle" fill="#222" stroke="#222" stroke-width="0.2" >7.3E-05</text>
<text x="525.00" y="590.52" font-size="10.4" text-anchor="end" fill="#222" stroke="#222" stroke-width="0.2" >monoatomic ion homeostasis</text>
<text x="550.10" y="590.48" font-size="10.3" text-anchor="middle" fill="#222" stroke="#222" stroke-width="0.2" >155</text>
<text x="584.80" y="590.48" font-size="10.3" text-anchor="middle" fill="#222" stroke="#222" stroke-width="0.2" >6</text>
<text x="617.00" y="590.48" font-size="10.3" text-anchor="middle" fill="#222" stroke="#222" stroke-width="0.2" >15.94</text>
<text x="660.00" y="590.48" font-size="10.3" text-anchor="middle" fill="#222" stroke="#222" stroke-width="0.2" >8.8E-04</text>
<text x="525.00" y="602.66" font-size="10.4" text-anchor="end" fill="#222" stroke="#222" stroke-width="0.2" >DNA-temp transcription initiation</text>
<text x="550.10" y="602.62" font-size="10.3" text-anchor="middle" fill="#222" stroke="#222" stroke-width="0.2" >152</text>
<text x="584.80" y="602.62" font-size="10.3" text-anchor="middle" fill="#222" stroke="#222" stroke-width="0.2" >5</text>
<text x="617.00" y="602.62" font-size="10.3" text-anchor="middle" fill="#222" stroke="#222" stroke-width="0.2" >13.55</text>
<text x="660.00" y="602.62" font-size="10.3" text-anchor="middle" fill="#222" stroke="#222" stroke-width="0.2" >1.3E-02</text>
<text x="525.00" y="614.80" font-size="10.4" text-anchor="end" fill="#222" stroke="#222" stroke-width="0.2" >cellular homeostasis</text>
<text x="550.10" y="614.77" font-size="10.3" text-anchor="middle" fill="#222" stroke="#222" stroke-width="0.2" >176</text>
<text x="584.80" y="614.77" font-size="10.3" text-anchor="middle" fill="#222" stroke="#222" stroke-width="0.2" >5</text>
<text x="617.00" y="614.77" font-size="10.3" text-anchor="middle" fill="#222" stroke="#222" stroke-width="0.2" >11.7</text>
<text x="660.00" y="614.77" font-size="10.3" text-anchor="middle" fill="#222" stroke="#222" stroke-width="0.2" >6.1E-03</text>
<text x="525.00" y="626.94" font-size="10.4" text-anchor="end" fill="#222" stroke="#222" stroke-width="0.2" >reg. signal. - p53 class mediator</text>
<text x="550.10" y="626.91" font-size="10.3" text-anchor="middle" fill="#222" stroke="#222" stroke-width="0.2" >109</text>
<text x="584.80" y="626.91" font-size="10.3" text-anchor="middle" fill="#222" stroke="#222" stroke-width="0.2" >4</text>
<text x="617.00" y="626.91" font-size="10.3" text-anchor="middle" fill="#222" stroke="#222" stroke-width="0.2" >15.11</text>
<text x="660.00" y="626.91" font-size="10.3" text-anchor="middle" fill="#222" stroke="#222" stroke-width="0.2" >4.0E-02</text>
<text x="525.00" y="639.09" font-size="10.4" text-anchor="end" fill="#222" stroke="#222" stroke-width="0.2" >reg. of cell size</text>
<text x="550.10" y="639.05" font-size="10.3" text-anchor="middle" fill="#222" stroke="#222" stroke-width="0.2" >37</text>
<text x="584.80" y="639.05" font-size="10.3" text-anchor="middle" fill="#222" stroke="#222" stroke-width="0.2" >4</text>
<text x="617.00" y="639.05" font-size="10.3" text-anchor="middle" fill="#222" stroke="#222" stroke-width="0.2" >44.52</text>
<text x="660.00" y="639.05" font-size="10.3" text-anchor="middle" fill="#222" stroke="#222" stroke-width="0.2" >1.1E-03</text>
<text x="525.00" y="651.23" font-size="10.4" text-anchor="end" fill="#222" stroke="#222" stroke-width="0.2" >neg. reg. protein local. to PM</text>
<text x="550.10" y="651.19" font-size="10.3" text-anchor="middle" fill="#222" stroke="#222" stroke-width="0.2" >28</text>
<text x="584.80" y="651.19" font-size="10.3" text-anchor="middle" fill="#222" stroke="#222" stroke-width="0.2" >3</text>
<text x="617.00" y="651.19" font-size="10.3" text-anchor="middle" fill="#222" stroke="#222" stroke-width="0.2" >44.13</text>
<text x="660.00" y="651.19" font-size="10.3" text-anchor="middle" fill="#222" stroke="#222" stroke-width="0.2" >1.7E-02</text>
<text x="525.00" y="663.37" font-size="10.4" text-anchor="end" fill="#222" stroke="#222" stroke-width="0.2" >reg. p38MAPK cascade</text>
<text x="550.10" y="663.33" font-size="10.3" text-anchor="middle" fill="#222" stroke="#222" stroke-width="0.2" >3</text>
<text x="584.80" y="663.33" font-size="10.3" text-anchor="middle" fill="#222" stroke="#222" stroke-width="0.2" >2</text>
<text x="617.00" y="663.33" font-size="10.3" text-anchor="middle" fill="#222" stroke="#222" stroke-width="0.2" >&gt; 100</text>
<text x="660.00" y="663.33" font-size="10.3" text-anchor="middle" fill="#222" stroke="#222" stroke-width="0.2" >2.2E-03</text>
<text x="525.00" y="675.51" font-size="10.4" text-anchor="end" fill="#222" stroke="#222" stroke-width="0.2" >histone H3 acetylation</text>
<text x="550.10" y="675.47" font-size="10.3" text-anchor="middle" fill="#222" stroke="#222" stroke-width="0.2" >5</text>
<text x="584.80" y="675.47" font-size="10.3" text-anchor="middle" fill="#222" stroke="#222" stroke-width="0.2" >2</text>
<text x="617.00" y="675.47" font-size="10.3" text-anchor="middle" fill="#222" stroke="#222" stroke-width="0.2" >&gt; 100</text>
<text x="660.00" y="675.47" font-size="10.3" text-anchor="middle" fill="#222" stroke="#222" stroke-width="0.2" >5.5E-03</text>
<text x="525.00" y="687.65" font-size="10.4" text-anchor="end" fill="#222" stroke="#222" stroke-width="0.2" >pos. reg. stress-act. MAPK</text>
<text x="550.10" y="687.62" font-size="10.3" text-anchor="middle" fill="#222" stroke="#222" stroke-width="0.2" >13</text>
<text x="584.80" y="687.62" font-size="10.3" text-anchor="middle" fill="#222" stroke="#222" stroke-width="0.2" >2</text>
<text x="617.00" y="687.62" font-size="10.3" text-anchor="middle" fill="#222" stroke="#222" stroke-width="0.2" >63.36</text>
<text x="660.00" y="687.62" font-size="10.3" text-anchor="middle" fill="#222" stroke="#222" stroke-width="0.2" >2.9E-02</text>
</svg>
</body></html>
